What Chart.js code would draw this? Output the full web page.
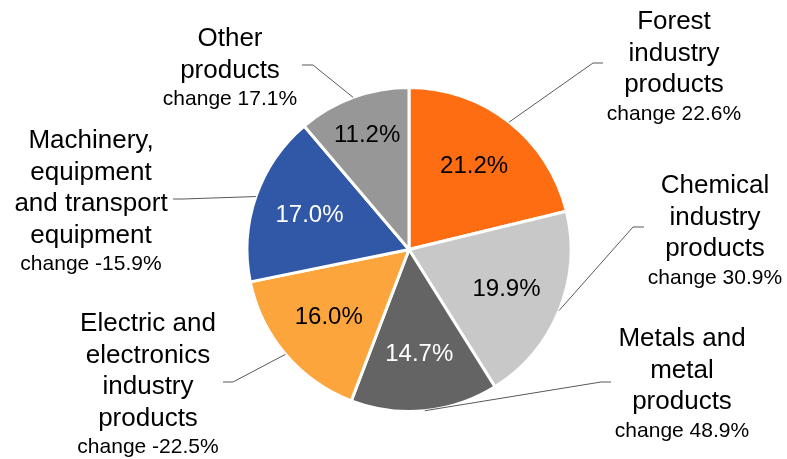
<!DOCTYPE html>
<html>
<head>
<meta charset="utf-8">
<script src="https://cdn.jsdelivr.net/npm/chart.js@4.4.1/dist/chart.umd.min.js"></script>
<style>
    html, body { margin: 0; padding: 0; background: #ffffff; }
    #wrap { width: 787px; height: 459px; position: relative; }
</style>
</head>
<body>
<div id="wrap"><canvas id="exportPie"></canvas></div>
<script>
// Export shares by product group, with year-on-year change
const categories = [
    ['Forest', 'industry', 'products'],
    ['Chemical', 'industry', 'products'],
    ['Metals and', 'metal', 'products'],
    ['Electric and', 'electronics', 'industry', 'products'],
    ['Machinery,', 'equipment', 'and transport', 'equipment'],
    ['Other', 'products']
];
const shares = [21.2, 19.9, 14.7, 16.0, 17.0, 11.2];
const changes = [22.6, 30.9, 48.9, -22.5, -15.9, 17.1];

const sliceColors = ['#ff6d12', '#c8c8c8', '#646464', '#fca53c', '#3157a7', '#979797'];
const valueColors = ['#000000', '#000000', '#ffffff', '#000000', '#ffffff', '#000000'];

// Where each outside label block sits: centre x, first baseline, and the short
// horizontal stub of its leader line
const callouts = [
    { cx: 674, y: 29, stub: [603, 63, 593, 63] },
    { cx: 715, y: 193, stub: [644, 227, 633, 227] },
    { cx: 682, y: 346, stub: [611, 382, 601, 382] },
    { cx: 148, y: 331, stub: [223, 382, 233, 382] },
    { cx: 91, y: 148, stub: [173, 199, 183, 199] },
    { cx: 230, y: 46, stub: [302, 65, 313, 65] }
];
const valueRadius = [0.65, 0.65, 0.65, 0.65, 0.65, 0.75];

const FONT = '"Liberation Sans", Arial, sans-serif';

const pieLabels = {
    id: 'pieLabels',
    afterDatasetsDraw(chart) {
        const ctx = chart.ctx;
        const meta = chart.getDatasetMeta(0);
        ctx.save();
        meta.data.forEach((arc, i) => {
            const p = arc.getProps(['x', 'y', 'startAngle', 'endAngle', 'outerRadius'], true);
            const mid = (p.startAngle + p.endAngle) / 2;

            // value inside the slice
            const vr = p.outerRadius * valueRadius[i];
            ctx.font = '24px ' + FONT;
            ctx.fillStyle = valueColors[i];
            ctx.textAlign = 'center';
            ctx.textBaseline = 'middle';
            ctx.fillText(shares[i].toFixed(1) + '%', p.x + Math.cos(mid) * vr, p.y + Math.sin(mid) * vr);

            // leader line to the slice edge
            const c = callouts[i];
            const ex = p.x + Math.cos(mid) * p.outerRadius;
            const ey = p.y + Math.sin(mid) * p.outerRadius;
            ctx.strokeStyle = '#595959';
            ctx.lineWidth = 1;
            ctx.beginPath();
            ctx.moveTo(c.stub[0], c.stub[1]);
            ctx.lineTo(c.stub[2], c.stub[3]);
            ctx.lineTo(ex, ey);
            ctx.stroke();

            // category name and change line
            ctx.fillStyle = '#000000';
            ctx.textBaseline = 'alphabetic';
            ctx.font = '26px ' + FONT;
            let y = c.y;
            categories[i].forEach(line => {
                ctx.fillText(line, c.cx, y);
                y += 31.5;
            });
            ctx.font = '21px ' + FONT;
            ctx.fillText('change ' + changes[i].toFixed(1) + '%', c.cx, y - 4);
        });
        ctx.restore();
    }
};

new Chart(document.getElementById('exportPie').getContext('2d'), {
    type: 'pie',
    data: {
        labels: categories.map(l => l.join(' ')),
        datasets: [{
            data: shares,
            backgroundColor: sliceColors,
            borderColor: '#ffffff',
            borderWidth: 3,
            radius: 162
        }]
    },
    options: {
        responsive: true,
        maintainAspectRatio: false,
        animation: false,
        layout: { padding: { left: 31, top: 40 } },
        plugins: {
            legend: { display: false },
            tooltip: { enabled: false }
        }
    },
    plugins: [pieLabels]
});
</script>
</body>
</html>
